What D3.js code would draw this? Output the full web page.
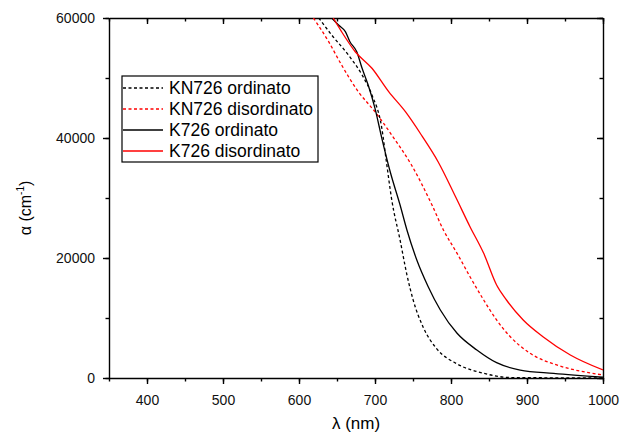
<!DOCTYPE html>
<html>
<head>
<meta charset="utf-8">
<script src="https://cdn.jsdelivr.net/npm/d3@7"></script>
<style>
  body { margin: 0; background: #fff; }
  svg { font-family: Arial, "Liberation Sans", sans-serif; }
  .axis path, .axis line { stroke: #000; stroke-width: 1.4; }
  .axis text { font-size: 14px; fill: #111; font-family: Arial, "Liberation Sans", sans-serif; }
</style>
</head>
<body>
<svg width="621" height="434"></svg>
<script>
// wavelength (nm) and absorption coefficient (cm^-1)
var knOrdLambda = [626, 643, 665, 683, 696, 709, 715, 722, 733, 742, 750, 764, 781, 808, 843, 878, 1000];
var knOrdAlpha  = [60000, 57170, 53830, 50500, 47170, 41620, 36050, 29720, 23000, 17200, 13100, 8300, 4900, 2350, 780, 80, 0];

var knDisLambda = [619, 639, 656, 678, 700, 722, 748, 775, 790, 808, 825, 843, 860, 878, 904, 939, 974, 1000];
var knDisAlpha  = [60000, 56050, 52170, 47720, 44380, 40500, 35500, 28830, 24670, 20780, 16880, 13000, 9670, 6880, 4120, 2170, 1050, 500];

var kOrdLambda = [643, 652, 661, 667, 676, 683, 691, 700, 709, 720, 733, 742, 755, 770, 786, 808, 834, 860, 891, 935, 1000];
var kOrdAlpha  = [60000, 58830, 57720, 56050, 54380, 51620, 48830, 44950, 39950, 34380, 28830, 24670, 19670, 15220, 11330, 7450, 4670, 2550, 1330, 780, 150];

var kDisLambda = [645, 656, 674, 696, 718, 740, 761, 783, 806, 825, 843, 860, 873, 895, 921, 957, 1000];
var kDisAlpha  = [60000, 57720, 54380, 51620, 47720, 44380, 40500, 36050, 30200, 25220, 20780, 15500, 13000, 9670, 6880, 3830, 1330];

var xTicks = [400, 500, 600, 700, 800, 900, 1000];
var yTicks = [0, 20000, 40000, 60000];

var series = [
  { name: "KN726 ordinato",    lambda: knOrdLambda, alpha: knOrdAlpha, color: "#000", dash: "3,2.5" },
  { name: "KN726 disordinato", lambda: knDisLambda, alpha: knDisAlpha, color: "#ff0000", dash: "3,2.5" },
  { name: "K726 ordinato",     lambda: kOrdLambda,  alpha: kOrdAlpha,  color: "#000", dash: null },
  { name: "K726 disordinato",  lambda: kDisLambda,  alpha: kDisAlpha,  color: "#ff0000", dash: null }
];

var svg = d3.select("svg");
var pL = 109, pR = 603, pT = 18, pB = 378;

var x = d3.scaleLinear().domain([350, 1000]).range([pL, pR]);
var y = d3.scaleLinear().domain([0, 60000]).range([pB, pT]);

var minorX = d3.range(350, 1001, 50);
var minorY = d3.range(0, 60001, 10000);

// minor ticks first, then major axes on top
svg.append("g").attr("class", "axis")
    .attr("transform", "translate(0," + pB + ")")
    .call(d3.axisBottom(x).tickValues(minorX).tickSize(3.5).tickFormat(""))
    .select(".domain").remove();
svg.append("g").attr("class", "axis")
    .attr("transform", "translate(" + pL + ",0)")
    .call(d3.axisLeft(y).tickValues(minorY).tickSize(3.5).tickFormat(""))
    .select(".domain").remove();
svg.append("g").attr("class", "axis")
    .attr("transform", "translate(0," + pT + ")")
    .call(d3.axisBottom(x).tickValues(minorX).tickSize(3.5).tickFormat(""))
    .select(".domain").remove();
svg.append("g").attr("class", "axis")
    .attr("transform", "translate(" + pR + ",0)")
    .call(d3.axisLeft(y).tickValues(minorY).tickSize(3.5).tickFormat(""))
    .select(".domain").remove();

svg.append("g").attr("class", "axis")
    .attr("transform", "translate(0," + pB + ")")
    .call(d3.axisBottom(x).tickValues(xTicks).tickSize(6).tickSizeOuter(0).tickPadding(11).tickFormat(d3.format("d")));
svg.append("g").attr("class", "axis")
    .attr("transform", "translate(" + pL + ",0)")
    .call(d3.axisLeft(y).tickValues(yTicks).tickSize(6).tickSizeOuter(0).tickPadding(8).tickFormat(d3.format("d")));
// top and right frame, ticks pointing inward
svg.append("g").attr("class", "axis")
    .attr("transform", "translate(0," + pT + ")")
    .call(d3.axisBottom(x).tickValues(xTicks).tickSize(6).tickSizeOuter(0).tickFormat(""));
svg.append("g").attr("class", "axis")
    .attr("transform", "translate(" + pR + ",0)")
    .call(d3.axisLeft(y).tickValues(yTicks).tickSize(6).tickSizeOuter(0).tickFormat(""));

svg.append("defs").append("clipPath").attr("id", "clip")
  .append("rect").attr("x", pL).attr("y", pT).attr("width", pR - pL).attr("height", pB - pT);

var line = d3.line()
    .x(function (d) { return x(d[0]); })
    .y(function (d) { return y(d[1]); })
    .curve(d3.curveMonotoneX);

var plot = svg.append("g").attr("clip-path", "url(#clip)");
series.forEach(function (s) {
    plot.append("path")
        .datum(d3.zip(s.lambda, s.alpha))
        .attr("fill", "none")
        .attr("stroke", s.color)
        .attr("stroke-width", 1.3)
        .attr("stroke-dasharray", s.dash)
        .attr("d", line);
});

// legend
var lg = svg.append("g").attr("transform", "translate(122,76)");
lg.append("rect").attr("width", 196).attr("height", 86)
    .attr("fill", "#fff").attr("stroke", "#000").attr("stroke-width", 1.2);
series.forEach(function (s, i) {
    var yy = 12 + i * 21;
    lg.append("line").attr("x1", 1).attr("x2", 41).attr("y1", yy).attr("y2", yy)
        .attr("stroke", s.color).attr("stroke-width", 1.3).attr("stroke-dasharray", s.dash);
    lg.append("text").attr("x", 47).attr("y", yy + 6)
        .style("font-size", "17.5px").attr("fill", "#000").text(s.name);
});

// axis titles
svg.append("text").attr("x", 356).attr("y", 429)
    .attr("text-anchor", "middle").style("font-size", "17px")
    .text("λ (nm)");
var yt = svg.append("text").attr("transform", "translate(31,208) rotate(-90)")
    .attr("text-anchor", "middle").style("font-size", "16px");
yt.append("tspan").text("α (cm");
yt.append("tspan").attr("dy", -7).style("font-size", "10px").text("-1");
yt.append("tspan").attr("dy", 7).text(")");
</script>
</body>
</html>
